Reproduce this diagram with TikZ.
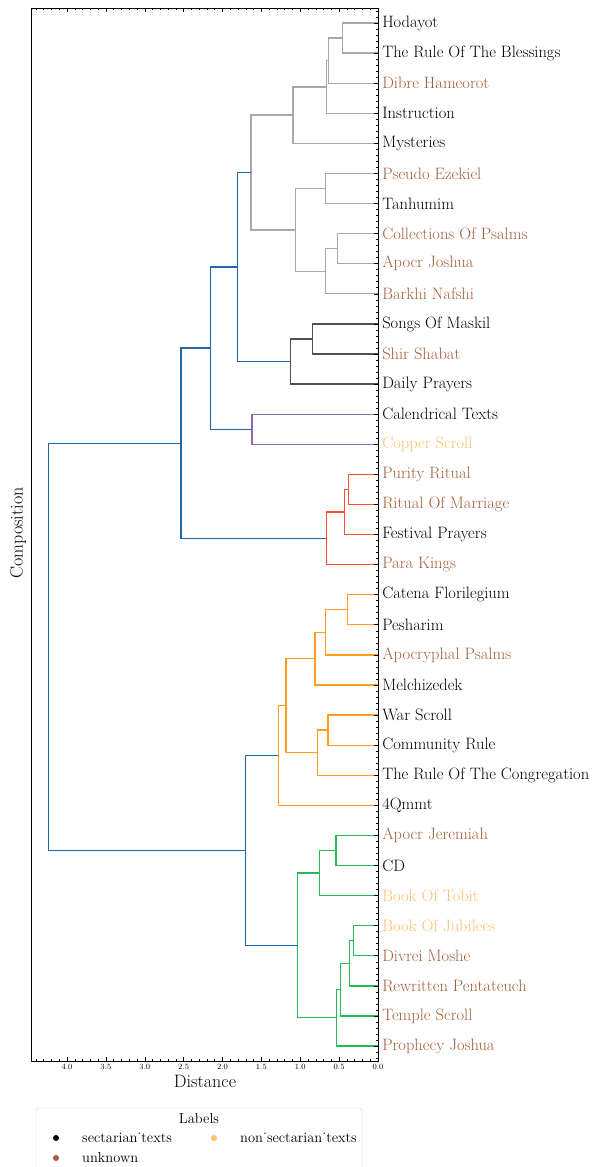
\documentclass[tikz,border=0pt]{standalone}
\usepackage{tikz}
\usetikzlibrary{positioning, calc}
\definecolor{sectc}{HTML}{000000}
\definecolor{unknc}{HTML}{A0603A}
\definecolor{nonsc}{HTML}{FDC070}
\definecolor{greyc}{HTML}{A8A8A8}
\definecolor{dgreyc}{HTML}{505050}
\definecolor{bluec}{HTML}{2166AC}
\definecolor{purplec}{HTML}{8C6BB1}
\definecolor{redc}{HTML}{FC4E2A}
\definecolor{orangec}{HTML}{FD9E1C}
\definecolor{greenc}{HTML}{22BB55}
\newcommand{\usc}{\symbol{"02D9}}

\begin{document}
\begin{tikzpicture}[
  x={(-77.75pt,0)}, y={(0,-30.09pt)},
  font=\fontsize{16.5}{19}\selectfont,
  link/.style={line width=1.3pt, line join=miter},
  lbl/.style={anchor=west, inner sep=0pt, xshift=4pt},
  tck/.style={line width=0.6pt},
  ticklbl/.style={anchor=north, inner sep=0pt, font=\fontsize{8.5}{10}\selectfont},
  legtext/.style={anchor=west, inner sep=0pt, font=\fontsize{14.5}{17}\selectfont},
  dot/.style={circle, fill, inner sep=0pt, minimum size=6pt}
]
% page size, in the pixel frame of the reference
\useasboundingbox (4.8625,-0.7644) rectangle (-2.791,38.02);

% leaves, top to bottom
\foreach \n/\t/\c [count=\i from 0] in {
  hod/Hodayot/sectc,
  rob/The Rule Of The Blessings/sectc,
  dib/Dibre Hameorot/unknc,
  ins/Instruction/sectc,
  mys/Mysteries/sectc,
  pez/Pseudo Ezekiel/unknc,
  tan/Tanhumim/sectc,
  cop/Collections Of Psalms/unknc,
  ajo/Apocr Joshua/unknc,
  bar/Barkhi Nafshi/unknc,
  som/Songs Of Maskil/sectc,
  shi/Shir Shabat/unknc,
  dai/Daily Prayers/sectc,
  cal/Calendrical Texts/sectc,
  csc/Copper Scroll/nonsc,
  pur/Purity Ritual/unknc,
  rom/Ritual Of Marriage/unknc,
  fes/Festival Prayers/sectc,
  par/Para Kings/unknc,
  cat/Catena Florilegium/sectc,
  pes/Pesharim/sectc,
  aps/Apocryphal Psalms/unknc,
  mel/Melchizedek/sectc,
  war/War Scroll/sectc,
  com/Community Rule/sectc,
  roc/The Rule Of The Congregation/sectc,
  qmm/4Qmmt/sectc,
  aje/Apocr Jeremiah/unknc,
  cd/CD/sectc,
  tob/Book Of Tobit/nonsc,
  jub/Book Of Jubilees/nonsc,
  div/Divrei Moshe/unknc,
  rew/Rewritten Pentateuch/unknc,
  tem/Temple Scroll/unknc,
  pro/Prophecy Joshua/unknc}{
  \coordinate (\n) at (0,\i);
  \node[lbl, text=\c] (\n-lbl) at (\n) {\t};
}

% merge points (distance, mean row)
\coordinate (g1) at (0.454,0.5);
\coordinate (g2) at (0.639,1.25);
\coordinate (g3) at (0.665,2.125);
\coordinate (g4) at (1.093,3.0625);
\coordinate (g5) at (0.678,5.5);
\coordinate (g6) at (0.518,7.5);
\coordinate (g7) at (0.673,8.25);
\coordinate (g8) at (1.064,6.875);
\coordinate (g9) at (1.633,4.96875);
\coordinate (s1) at (0.840,10.5);
\coordinate (s2) at (1.128,11.25);
\coordinate (b1) at (1.807,8.109);
\coordinate (p1) at (1.621,13.5);
\coordinate (b2) at (2.157,10.805);
\coordinate (r1) at (0.377,15.5);
\coordinate (r2) at (0.428,16.25);
\coordinate (r3) at (0.665,17.125);
\coordinate (b3) at (2.534,13.965);
\coordinate (o1) at (0.390,19.5);
\coordinate (o2) at (0.678,20.25);
\coordinate (o3) at (0.810,21.125);
\coordinate (o4) at (0.643,23.5);
\coordinate (o5) at (0.776,24.25);
\coordinate (o6) at (1.183,22.6875);
\coordinate (o7) at (1.282,24.344);
\coordinate (n1) at (0.540,27.5);
\coordinate (n2) at (0.755,28.25);
\coordinate (n3) at (0.313,30.5);
\coordinate (n4) at (0.364,31.25);
\coordinate (n5) at (0.480,32.125);
\coordinate (n6) at (0.531,33.0625);
\coordinate (n7) at (1.033,30.656);
\coordinate (b4) at (1.707,27.5);
\coordinate (root) at (4.241,20.73);

\draw[link,greyc] (hod) -| (g1) |- (rob);
\draw[link,greyc] (g1) -| (g2) |- (dib);
\draw[link,greyc] (g2) -| (g3) |- (ins);
\draw[link,greyc] (g3) -| (g4) |- (mys);
\draw[link,greyc] (pez) -| (g5) |- (tan);
\draw[link,greyc] (cop) -| (g6) |- (ajo);
\draw[link,greyc] (g6) -| (g7) |- (bar);
\draw[link,greyc] (g5) -| (g8) |- (g7);
\draw[link,greyc] (g4) -| (g9) |- (g8);
\draw[link,dgreyc] (som) -| (s1) |- (shi);
\draw[link,dgreyc] (s1) -| (s2) |- (dai);
\draw[link,bluec] (g9) -| (b1) |- (s2);
\draw[link,purplec] (cal) -| (p1) |- (csc);
\draw[link,bluec] (b1) -| (b2) |- (p1);
\draw[link,redc] (pur) -| (r1) |- (rom);
\draw[link,redc] (r1) -| (r2) |- (fes);
\draw[link,redc] (r2) -| (r3) |- (par);
\draw[link,bluec] (b2) -| (b3) |- (r3);
\draw[link,orangec] (cat) -| (o1) |- (pes);
\draw[link,orangec] (o1) -| (o2) |- (aps);
\draw[link,orangec] (o2) -| (o3) |- (mel);
\draw[link,orangec] (war) -| (o4) |- (com);
\draw[link,orangec] (o4) -| (o5) |- (roc);
\draw[link,orangec] (o3) -| (o6) |- (o5);
\draw[link,orangec] (o6) -| (o7) |- (qmm);
\draw[link,greenc] (aje) -| (n1) |- (cd);
\draw[link,greenc] (n1) -| (n2) |- (tob);
\draw[link,greenc] (jub) -| (n3) |- (div);
\draw[link,greenc] (n3) -| (n4) |- (rew);
\draw[link,greenc] (n4) -| (n5) |- (tem);
\draw[link,greenc] (n5) -| (n6) |- (pro);
\draw[link,greenc] (n2) -| (n7) |- (n6);
\draw[link,bluec] (o7) -| (b4) |- (n7);
\draw[link,bluec] (b3) -| (root) |- (b4);

% axes frame and ticks
\draw[line width=0.8pt] (4.453,-0.5) rectangle (0,34.5);
\foreach \k in {0,...,44} {
  \draw[tck] (\k/10,34.5) -- ++(0pt,2pt);
  \draw[tck] (\k/10,-0.5) -- ++(0pt,-2pt);
}
\foreach \k in {0,...,8} {
  \pgfmathsetmacro{\v}{\k/2}
  \draw[tck] (\v,34.5) -- ++(0pt,4pt);
  \draw[tck] (\v,-0.5) -- ++(0pt,-4pt);
  \node[ticklbl] (t\k) at ([yshift=-3pt]\v,34.5)
    {\pgfmathprintnumber[fixed,precision=1,fixed zerofill]{\v}};
}
\foreach \k in {0,...,174}
  \draw[tck] (0,\k/5-0.4) -- ++(-2pt,0pt);
\foreach \k in {0,...,34}
  \draw[tck] (0,\k) -- ++(-4pt,0pt);

% axis titles and legend, in pixel units
\begin{scope}[shift={(4.8625,-0.7644)}, x=1pt, y=-1pt]
  \node[font=\fontsize{18}{21}\selectfont] (xlab) at (205,1081) {Distance};
  \node[font=\fontsize{18}{21}\selectfont, rotate=90] (ylab) at (18,533) {Composition};
  \draw[draw=black!18, fill=white, rounded corners=3pt] (36,1108) rectangle (362,1185);
  \node[font=\fontsize{14.5}{17}\selectfont] (legtitle) at (199,1119) {Labels};
  \node[dot, sectc] (d1) at (56,1138) {};
  \node[legtext] (e1) at (82,1138) {sectarian\usc texts};
  \node[dot, nonsc] (d2) at (214,1138) {};
  \node[legtext] (e2) at (240,1138) {non\usc sectarian\usc texts};
  \node[dot, unknc] (d3) at (56,1158) {};
  \node[legtext] (e3) at (82,1158) {unknown};
\end{scope}
\end{tikzpicture}
\end{document}
